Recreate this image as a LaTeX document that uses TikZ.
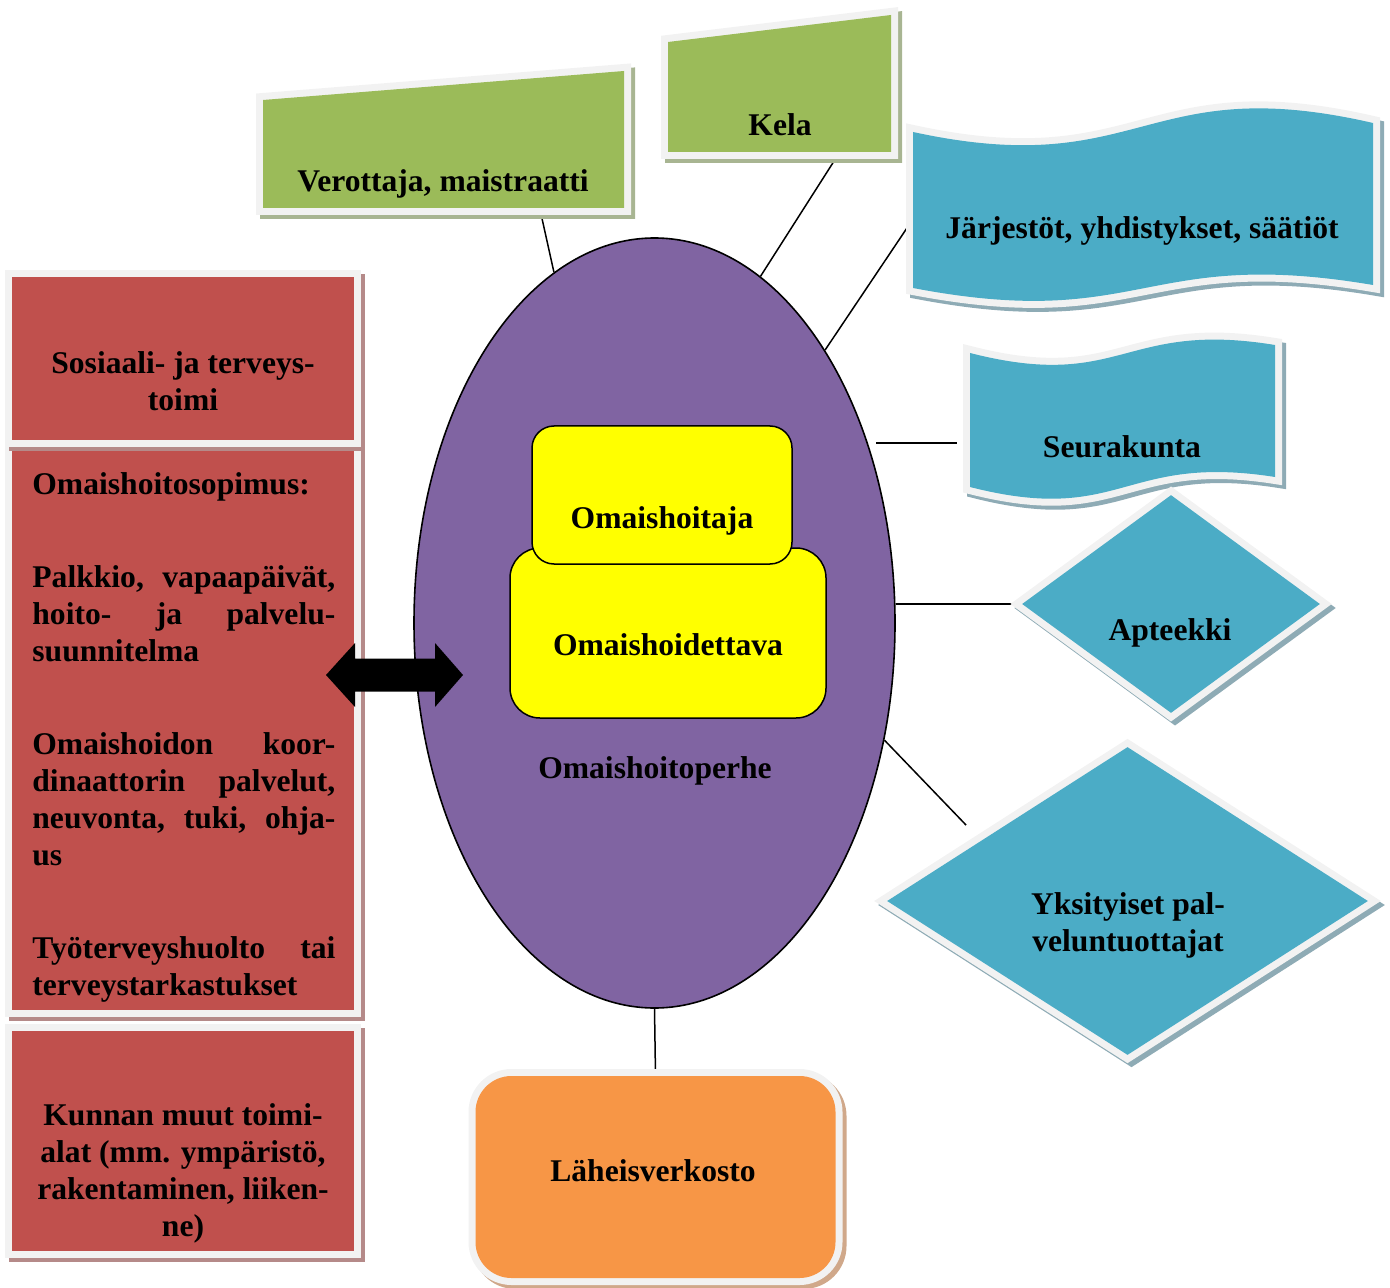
\documentclass[tikz,border=0pt]{standalone}
\usepackage{fontspec}
\setmainfont{Liberation Serif}
\usetikzlibrary{shapes.geometric, positioning, backgrounds, calc}
\setlength{\parindent}{0pt}
\definecolor{leafgreen}{HTML}{9BBB59}
\definecolor{leafshade}{HTML}{A8B592}
\definecolor{brick}{HTML}{C0504D}
\definecolor{brickshade}{HTML}{B58A89}
\definecolor{sky}{HTML}{4BACC6}
\definecolor{skyshade}{HTML}{8EABB5}
\definecolor{amber}{HTML}{F79646}
\definecolor{ambershade}{HTML}{D0A88A}
\definecolor{paneedge}{HTML}{F2F2F2}
\definecolor{plum}{HTML}{8064A2}
\definecolor{sun}{HTML}{FFFF00}
\tikzset{
  pane/.style 2 args={
    preaction={draw=#2, fill=#2, line width=7pt, transform canvas={shift={(2pt,-2pt)}}},
    preaction={draw=paneedge, line width=7pt},
    fill=#1, draw=none}
}
\tikzstyle{caption} = [font=\bfseries\fontsize{15.8pt}{18.5pt}\selectfont, align=center, inner sep=0pt]
\tikzstyle{redbox} = [rectangle, minimum width=171pt, inner sep=0pt, pane={brick}{brickshade}]
\tikzstyle{skydiamond} = [diamond, inner sep=0pt, pane={sky}{skyshade}]
\tikzstyle{carer} = [rectangle, inner sep=0pt, draw=black, line width=0.75pt, fill=sun]
\tikzstyle{link} = [line width=0.75pt]

\begin{document}
\begin{tikzpicture}[x=0.5pt, y=-0.5pt]
\useasboundingbox (0,0) rectangle (1390,1288);

% Omaishoitoperhe
\node (family) [ellipse, inner sep=0pt, minimum width=240.5pt, minimum height=385pt, draw=black, line width=0.8pt, fill=plum] at (654.5,623) {};
\node (family-text) [caption] at (655,771) {Omaishoitoperhe};
\node (hoidettava) [carer, minimum width=158pt, minimum height=85pt, rounded corners=15pt] at (668,633) {};
\node (hoitaja) [carer, minimum width=130pt, minimum height=69pt, rounded corners=11pt] at (662,495) {};
\node (hoidettava-text) [caption] at (668,645) {Omaishoidettava};
\node (hoitaja-text) [caption] at (662,521) {Omaishoitaja};

% Kunta
\node (sote-list) [redbox, minimum height=282.5pt] at (183,727.5) {};
\node (sote) [redbox, minimum height=81.5pt] at (183,358.5) {};
\node (kunta) [redbox, minimum height=110pt] at (183,1141) {};
\node (sote-text) [caption] at (183,381) {Sosiaali- ja terveys-\\toimi};
\node (sopimus-text) [caption, anchor=north west, text width=151.5pt, align=justify] at (32,472) {Omaishoitosopimus:\par\vspace{28pt}Palkkio, vapaapäivät,\linebreak hoito- ja palvelu-\linebreak suunnitelma\par\vspace{28pt}Omaishoidon koor-\linebreak dinaattorin palvelut,\linebreak neuvonta, tuki, ohja-\linebreak us\par\vspace{28pt}Työterveyshuolto tai\linebreak terveystarkastukset};
\node (kunta-text) [caption] at (183,1173) {Kunnan muut toimi-\\alat (mm. ympäristö,\\rakentaminen, liiken-\\ne)};

% Viranomaiset
\path [pane={leafgreen}{leafshade}] (263,100) -- (624,71) -- (624,208) -- (263,208) -- cycle;
\node (verottaja-text) [caption] at (443,184) {Verottaja, maistraatti};
\coordinate (verottaja-port) at (541,214);
\path [pane={leafgreen}{leafshade}] (668,42) -- (891,15) -- (891,152) -- (668,152) -- cycle;
\node (kela-text) [caption] at (780,125) {Kela};
\coordinate (kela-port) at (836,158);

% Kolmas sektori
\path [pane={sky}{skyshade}] (913,132) .. controls (1143,182) and (1143,70) .. (1373,123)
  -- (1373,285) .. controls (1143,246) and (1143,332) .. (913,288) -- cycle;
\node (jarjestot-text) [caption] at (1142,231) {Järjestöt, yhdistykset, säätiöt};
\coordinate (jarjestot-port) at (911,222);
\path [pane={sky}{skyshade}] (970,353) .. controls (1122.5,392) and (1122.5,320) .. (1275,345)
  -- (1275,477) .. controls (1122.5,453) and (1122.5,526) .. (970,487) -- cycle;
\node (seurakunta-text) [caption] at (1122,447) {Seurakunta};
\coordinate (seurakunta-port) at (957,443);

\node (apteekki) [skydiamond, minimum width=149pt, minimum height=109pt] at (1171,604) {};
\node (apteekki-text) [caption] at (1170,633) {Apteekki};
\node (yksityiset) [skydiamond, minimum width=240.5pt, minimum height=154pt] at (1127.5,901) {};
\node (yksityiset-text) [caption] at (1128,925) {Yksityiset pal-\\veluntuottajat};
\coordinate (yksityiset-port) at (966,825);

\node (lahi) [rectangle, rounded corners=18pt, inner sep=0pt, minimum width=180pt, minimum height=101pt, pane={amber}{ambershade}] at (655.5,1177) {};
\node (lahi-text) [caption] at (653,1171) {Läheisverkosto};

% Nuoli
\fill (326,675) -- (355,643) -- (355,658.5) -- (435,658.5) -- (435,643) -- (463,675)
  -- (435,707) -- (435,691.5) -- (355,691.5) -- (355,707) -- cycle;

% Yhteydet
\begin{scope}[on background layer]
\draw [link] (family.106) -- (verottaja-port);
\draw [link] (family.73.4) -- (kela-port);
\draw [link] (family.58) -- (jarjestot-port);
\draw [link] ([xshift=4pt]family.40.3 |- seurakunta-port) -- (seurakunta-port);
\draw [link] (family.east |- apteekki.west) -- (apteekki.west);
\draw [link] (family.-27) -- (yksityiset-port);
\draw [link] (family.south) -- (lahi.north);
\end{scope}

\end{tikzpicture}
\end{document}
